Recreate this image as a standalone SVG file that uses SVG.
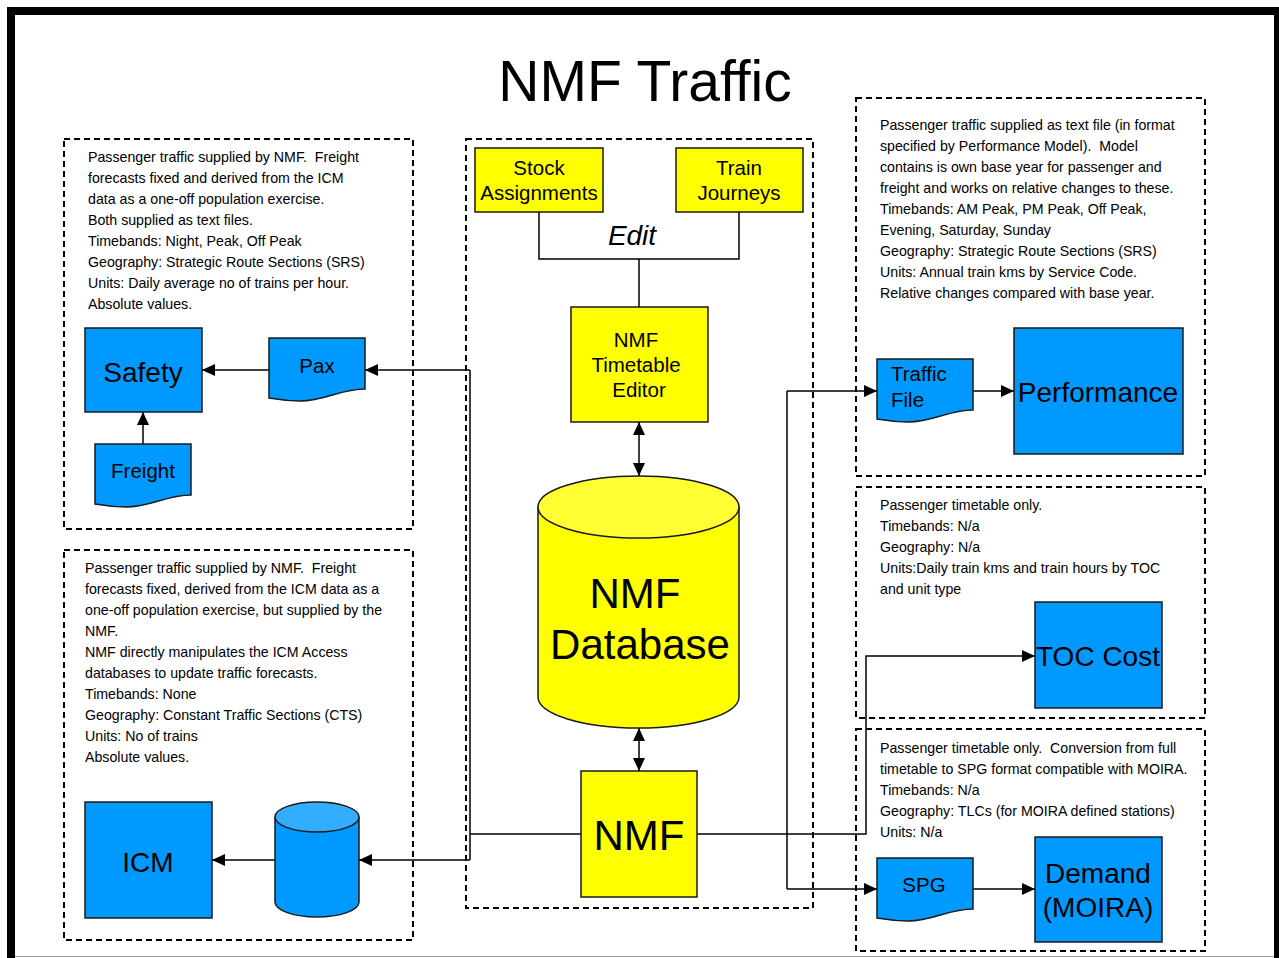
<svg xmlns="http://www.w3.org/2000/svg" xmlns:xlink="http://www.w3.org/1999/xlink" width="1279" height="958" viewBox="0 0 1279 958">
  <style>
    .frame { fill: none; stroke: #000; stroke-width: 8; }
    .zone { fill: none; stroke: #000; stroke-width: 2; stroke-dasharray: 6 4; }
    .blue { fill: #0099ff; stroke: #1a1a1a; stroke-width: 1.5; }
    .blue-top { fill: #33adff; stroke: #1a1a1a; stroke-width: 1.5; }
    .yellow { fill: #ffff00; stroke: #1a1a1a; stroke-width: 1.5; }
    .yellow-top { fill: #ffff33; stroke: #1a1a1a; stroke-width: 1.5; }
    .link { fill: none; stroke: #000; stroke-width: 1.5; }
    .arrow { marker-end: url(#head); }
    .both { marker-start: url(#head); marker-end: url(#head); }
    text { font-family: "Liberation Sans", Arial, sans-serif; fill: #000; }
    .note { font-size: 14.2px; }
    .lbl { font-size: 20.5px; text-anchor: middle; }
    .big { font-size: 28px; text-anchor: middle; }
    .huge { font-size: 42px; text-anchor: middle; }
  </style>
  <defs>
    <marker id="head" markerUnits="userSpaceOnUse" markerWidth="13" markerHeight="12" refX="13" refY="6" orient="auto-start-reverse">
      <path d="M0,0 L13,6 L0,12 Z" fill="#000"/>
    </marker>
    <!-- flowchart "document" outline with a wavy bottom edge -->
    <path id="doc" d="M0,0 H96 V51 C71,51 56,63 31,63 C16,63 6,61 0,60 Z"/>
  </defs>

  <rect width="1279" height="958" fill="#fff"/>
  <rect class="frame" x="11" y="11" width="1267" height="962"/>
  <line x1="15" y1="956.5" x2="1274" y2="956.5" stroke="#999" stroke-width="1"/>

  <text x="645" y="101" font-size="57" text-anchor="middle">NMF Traffic</text>

  <!-- dashed zones -->
  <g id="zones">
    <rect class="zone" x="64" y="139" width="349" height="390"/>
    <rect class="zone" x="64" y="550" width="349" height="390"/>
    <rect class="zone" x="466" y="139" width="347" height="769"/>
    <rect class="zone" x="856" y="98" width="349" height="378"/>
    <rect class="zone" x="856" y="487" width="349" height="231"/>
    <rect class="zone" x="856" y="729" width="349" height="222"/>
  </g>

  <!-- zone notes -->
  <g id="note-safety" class="note">
    <text x="88" y="162">Passenger traffic supplied by NMF.&#160; Freight</text>
    <text x="88" y="183">forecasts fixed and derived from the ICM</text>
    <text x="88" y="204">data as a one-off population exercise.</text>
    <text x="88" y="225">Both supplied as text files.</text>
    <text x="88" y="246">Timebands: Night, Peak, Off Peak</text>
    <text x="88" y="267">Geography: Strategic Route Sections (SRS)</text>
    <text x="88" y="288">Units: Daily average no of trains per hour.</text>
    <text x="88" y="309">Absolute values.</text>
  </g>
  <g id="note-icm" class="note">
    <text x="85" y="573">Passenger traffic supplied by NMF.&#160; Freight</text>
    <text x="85" y="594">forecasts fixed, derived from the ICM data as a</text>
    <text x="85" y="615">one-off population exercise, but supplied by the</text>
    <text x="85" y="636">NMF.</text>
    <text x="85" y="657">NMF directly manipulates the ICM Access</text>
    <text x="85" y="678">databases to update traffic forecasts.</text>
    <text x="85" y="699">Timebands: None</text>
    <text x="85" y="720">Geography: Constant Traffic Sections (CTS)</text>
    <text x="85" y="741">Units: No of trains</text>
    <text x="85" y="762">Absolute values.</text>
  </g>
  <g id="note-performance" class="note">
    <text x="880" y="130">Passenger traffic supplied as text file (in format</text>
    <text x="880" y="151">specified by Performance Model).&#160; Model</text>
    <text x="880" y="172">contains is own base year for passenger and</text>
    <text x="880" y="193">freight and works on relative changes to these.</text>
    <text x="880" y="214">Timebands: AM Peak, PM Peak, Off Peak,</text>
    <text x="880" y="235">Evening, Saturday, Sunday</text>
    <text x="880" y="256">Geography: Strategic Route Sections (SRS)</text>
    <text x="880" y="277">Units: Annual train kms by Service Code.</text>
    <text x="880" y="298">Relative changes compared with base year.</text>
  </g>
  <g id="note-toc" class="note">
    <text x="880" y="510">Passenger timetable only.</text>
    <text x="880" y="531">Timebands: N/a</text>
    <text x="880" y="552">Geography: N/a</text>
    <text x="880" y="573">Units:Daily train kms and train hours by TOC</text>
    <text x="880" y="594">and unit type</text>
  </g>
  <g id="note-demand" class="note">
    <text x="880" y="753">Passenger timetable only.&#160; Conversion from full</text>
    <text x="880" y="774">timetable to SPG format compatible with MOIRA.</text>
    <text x="880" y="795">Timebands: N/a</text>
    <text x="880" y="816">Geography: TLCs (for MOIRA defined stations)</text>
    <text x="880" y="837">Units: N/a</text>
  </g>

  <!-- connectors -->
  <g id="connectors">
    <polyline class="link" points="539,212 539,259 739,259 739,212"/>
    <line class="link" x1="639" y1="259" x2="639" y2="307"/>
    <line class="link both" x1="639" y1="422" x2="639" y2="476"/>
    <line class="link both" x1="639" y1="728" x2="639" y2="771"/>
    <line class="link" x1="581" y1="834" x2="470" y2="834"/>
    <line class="link" x1="470" y1="370" x2="470" y2="860"/>
    <line class="link arrow" x1="470" y1="370" x2="365" y2="370"/>
    <line class="link arrow" x1="470" y1="860" x2="359" y2="860"/>
    <line class="link arrow" x1="269" y1="370" x2="202" y2="370"/>
    <line class="link arrow" x1="143" y1="444" x2="143" y2="412"/>
    <line class="link arrow" x1="275" y1="860" x2="212" y2="860"/>
    <polyline class="link arrow" points="697,834 866,834 866,656 1035,656"/>
    <line class="link" x1="787" y1="391" x2="787" y2="889"/>
    <line class="link arrow" x1="787" y1="391" x2="877" y2="391"/>
    <line class="link arrow" x1="787" y1="889" x2="877" y2="889"/>
    <line class="link arrow" x1="972" y1="391" x2="1014" y2="391"/>
    <line class="link arrow" x1="972" y1="889" x2="1035" y2="889"/>
  </g>

  <text x="632" y="245" font-size="28" font-style="italic" text-anchor="middle">Edit</text>

  <g id="stock-assignments">
    <rect class="yellow" x="475" y="148" width="128" height="64"/>
    <text class="lbl" x="539" y="175">Stock</text>
    <text class="lbl" x="539" y="200">Assignments</text>
  </g>
  <g id="train-journeys">
    <rect class="yellow" x="676" y="148" width="127" height="64"/>
    <text class="lbl" x="739" y="175">Train</text>
    <text class="lbl" x="739" y="200">Journeys</text>
  </g>
  <g id="timetable-editor">
    <rect class="yellow" x="571" y="307" width="137" height="115"/>
    <text class="lbl" x="636" y="347">NMF</text>
    <text class="lbl" x="636" y="372">Timetable</text>
    <text class="lbl" x="639" y="397">Editor</text>
  </g>
  <g id="nmf-database">
    <path class="yellow" d="M538,507 V697 A100.5,31 0 0 0 739,697 V507"/>
    <ellipse class="yellow-top" cx="638.5" cy="507" rx="100.5" ry="31"/>
    <text class="huge" x="635" y="608">NMF</text>
    <text class="huge" x="640" y="659">Database</text>
  </g>
  <g id="nmf">
    <rect class="yellow" x="581" y="771" width="116" height="126"/>
    <text class="huge" x="639" y="850">NMF</text>
  </g>

  <g id="safety">
    <rect class="blue" x="85" y="328" width="117" height="84"/>
    <text class="big" x="143" y="382">Safety</text>
  </g>
  <g id="pax">
    <use href="#doc" xlink:href="#doc" class="blue" transform="translate(269,338)"/>
    <text class="lbl" x="317" y="373">Pax</text>
  </g>
  <g id="freight">
    <use href="#doc" xlink:href="#doc" class="blue" transform="translate(95,444)"/>
    <text class="lbl" x="143" y="478">Freight</text>
  </g>
  <g id="icm">
    <rect class="blue" x="85" y="802" width="127" height="116"/>
    <text class="big" x="148" y="872">ICM</text>
  </g>
  <g id="icm-store">
    <path class="blue" d="M275,817 V902 A42,15 0 0 0 359,902 V817"/>
    <ellipse class="blue-top" cx="317" cy="817" rx="42" ry="15"/>
  </g>
  <g id="traffic-file">
    <use href="#doc" xlink:href="#doc" class="blue" transform="translate(877,359)"/>
    <text x="891" y="381" font-size="20.5">Traffic</text>
    <text x="891" y="407" font-size="20.5">File</text>
  </g>
  <g id="performance">
    <rect class="blue" x="1014" y="328" width="169" height="126"/>
    <text class="big" x="1098" y="402">Performance</text>
  </g>
  <g id="toc-cost">
    <rect class="blue" x="1035" y="602" width="127" height="106"/>
    <text class="big" x="1098" y="666">TOC Cost</text>
  </g>
  <g id="spg">
    <use href="#doc" xlink:href="#doc" class="blue" transform="translate(877,858)"/>
    <text class="lbl" x="924" y="892">SPG</text>
  </g>
  <g id="demand">
    <rect class="blue" x="1035" y="837" width="127" height="105"/>
    <text class="big" x="1098" y="883">Demand</text>
    <text class="big" x="1098" y="917">(MOIRA)</text>
  </g>
</svg>
